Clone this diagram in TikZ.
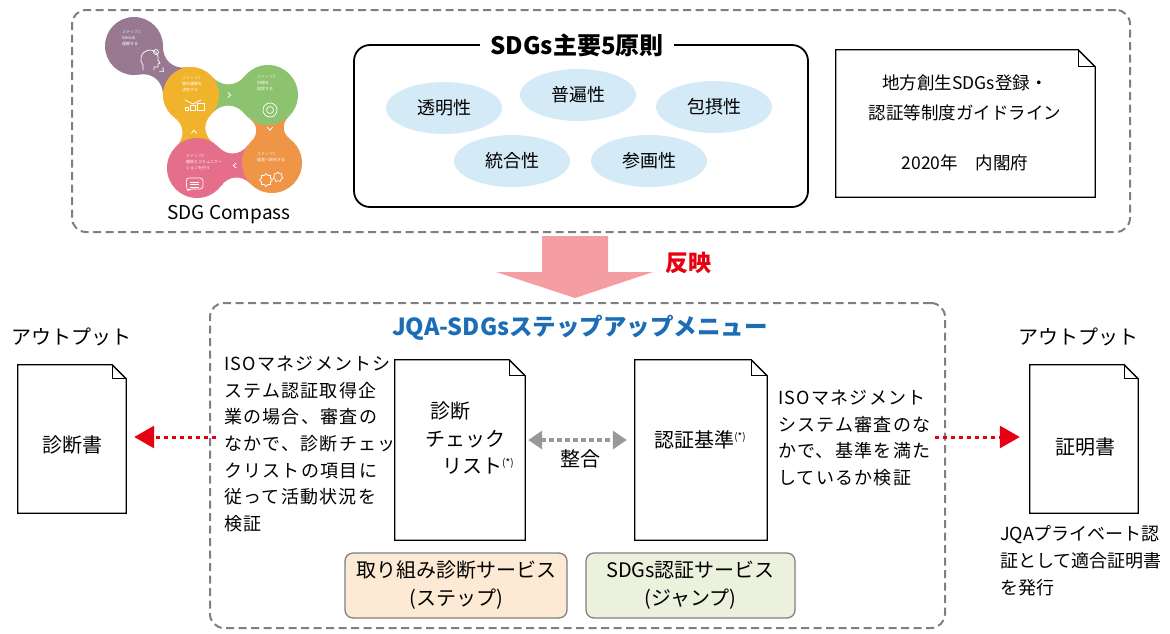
\documentclass[tikz,border=0pt]{standalone}
\usepackage{fontspec}
\setmainfont{Noto Sans CJK JP}
\newfontfamily\spc[LetterSpace=7]{Noto Sans CJK JP}
\usetikzlibrary{calc,arrows.meta,shapes.geometric}

\definecolor{framegray}{HTML}{7F7F7F}
\definecolor{ellblue}{HTML}{D5EAF7}
\definecolor{peach}{HTML}{FDEAD4}
\definecolor{lightgreen}{HTML}{EBF1DD}
\definecolor{svcgray}{HTML}{808080}
\definecolor{titleblue}{HTML}{1B6DB8}
\definecolor{jqared}{HTML}{E50012}
\definecolor{arrowpink}{HTML}{F49DA3}
\definecolor{dotgray}{HTML}{999999}
\definecolor{sdgpurple}{HTML}{987991}
\definecolor{sdgyellow}{HTML}{F2B32C}
\definecolor{sdggreen}{HTML}{8DC26F}
\definecolor{sdgorange}{HTML}{EE9548}
\definecolor{sdgpink}{HTML}{E56E8A}

% neck joining two compass circles: centres #1,#2, radii #3,#4, colour #5
\newcommand\sdgneck[5]{%
  \fill[#5] ($(#1)!#3!40:(#2)$) to[relative,out=-50,in=-130,looseness=1.1]
    ($(#2)!#4!-40:(#1)$) -- ($(#2)!#4!40:(#1)$)
    to[relative,out=-50,in=-130,looseness=1.1] ($(#1)!#3!-40:(#2)$) -- cycle;}
% small white chevron between two circles
\newcommand\sdgchev[3]{%
  \begin{scope}[shift={($(#1)!0.5!(#2)$)},rotate=#3]
    \draw[white,line width=0.8pt] (-1.8,-2.6) -- (1.2,0) -- (-1.8,2.6);
  \end{scope}}
% document outline with folded corner around node #2 (fold size #1)
\newcommand\docshape[2][16]{%
  \draw[docline] (#2.north west) -- ([xshift=-#1pt]#2.north east)
    -- ([yshift=-#1pt]#2.north east) -- (#2.south east) -- (#2.south west) -- cycle;
  \draw[docline] ([xshift=-#1pt]#2.north east) |- ([yshift=-#1pt]#2.north east);}

\begin{document}
\begin{tikzpicture}[x=1pt,y=-1pt,
  frame/.style={draw=framegray,line width=2pt,dash pattern=on 8pt off 4.5pt,
    rounded corners=14pt,inner sep=0pt},
  pbox/.style={draw=black,line width=1.8pt,rounded corners=16pt,inner sep=0pt},
  ell/.style={ellipse,fill=ellblue,minimum width=116pt,minimum height=52pt,
    font=\fontsize{18}{20}\selectfont},
  docnode/.style={inner sep=0pt},
  docline/.style={draw=black,line width=1.3pt,line join=miter},
  body/.style={font=\fontsize{20}{28}\selectfont,inner sep=0pt},
  svc/.style={draw=svcgray,line width=1.3pt,rounded corners=8pt,align=center,
    minimum height=65pt,inner sep=0pt,font=\fontsize{20}{28}\selectfont},
  tiny/.style={text=white,align=left,inner sep=0pt,anchor=north west,
    font=\fontsize{4}{6}\selectfont},
  icon/.style={draw=white,line width=0.7pt},
  reddot/.style={draw=jqared,line width=3pt,dash pattern=on 4pt off 4pt,
    -{Triangle[length=20pt,width=22pt,fill=jqared]}},
  graydot/.style={draw=dotgray,line width=4pt,dash pattern=on 5pt off 3pt,
    {Triangle[length=14pt,width=18pt]}-{Triangle[length=14pt,width=18pt]}}
]
\useasboundingbox (0,0) rectangle (1170,633);

% ---------- upper frame ----------
\node[frame,minimum width=1058pt,minimum height=222pt] (topframe) at (601,121) {};

% SDG Compass
\coordinate (cP) at (134,46);
\coordinate (cY) at (191,95);
\coordinate (cG) at (268,95);
\coordinate (cO) at (272,163);
\coordinate (cK) at (197,168);
\sdgneck{cP}{cY}{29pt}{28pt}{sdgpurple}
\sdgneck{cY}{cG}{28pt}{30pt}{sdggreen}
\sdgneck{cG}{cO}{30pt}{30pt}{sdgorange}
\sdgneck{cO}{cK}{30pt}{30pt}{sdgpink}
\sdgneck{cK}{cY}{30pt}{28pt}{sdgyellow}
\fill[sdgpurple] (cP) circle[radius=29pt];
\fill[sdgyellow] (cY) circle[radius=28pt];
\fill[sdggreen] (cG) circle[radius=30pt];
\fill[sdgorange] (cO) circle[radius=30pt];
\fill[sdgpink] (cK) circle[radius=30pt];
\sdgchev{cP}{cY}{-41}
\sdgchev{cY}{cG}{0}
\sdgchev{cG}{cO}{-90}
\sdgchev{cO}{cK}{180}
\sdgchev{cK}{cY}{90}

\node[tiny] (t1) at (122,30) {\textcolor{white!75!sdgpurple}{ステップ1}\\SDGsを\\理解する};
\node[tiny] (t2) at (182,76) {\textcolor{white!75!sdgyellow}{ステップ2}\\優先課題を\\決定する};
\node[tiny] (t3) at (257,75) {\textcolor{white!75!sdggreen}{ステップ3}\\目標を\\設定する};
\node[tiny] (t4) at (257,152) {\textcolor{white!75!sdgorange}{ステップ4}\\経営へ統合する};
\node[tiny] (t5) at (186,154) {\textcolor{white!75!sdgpink}{ステップ5}\\報告とコミュニケー\\ションを行う};

% icons
\draw[icon] (143,70) -- (143,65) .. controls (139,61) and (140,51) .. (150,50)
  .. controls (156,50) and (159,55) .. (158,60) -- (160,63) -- (158,64)
  -- (158,67) -- (154,67) -- (154,70);
\draw[icon] (156,52) circle[radius=2.5pt];
\draw[icon] (185,100) -- (193,104) -- (201,100);
\draw[icon] (185,107) rectangle (188,110);
\draw[icon] (190,105) rectangle (195,110);
\draw[icon] (197,103) rectangle (204,110);
\draw[icon] (270,110) circle[radius=7pt];
\draw[icon] (270,110) circle[radius=3.5pt];
\node[star,star points=8,star point ratio=1.35,draw=white,line width=0.7pt,
  minimum size=13pt,inner sep=0pt] (gear1) at (266,180) {};
\node[star,star points=7,star point ratio=1.35,draw=white,line width=0.7pt,
  minimum size=10pt,inner sep=0pt] (gear2) at (278,177) {};
\draw[icon,rounded corners=3pt] (187,191) -- (186,178) -- (203,178) -- (203,189) -- (190,189) -- cycle;
\draw[icon] (190,182) -- (199,182) (190,184.5) -- (199,184.5) (190,187) -- (199,187);

\node[font=\fontsize{19}{20}\selectfont,inner sep=0pt] (compass) at (229,215) {SDG Compass};

% five principles
\node[pbox,minimum width=454pt,minimum height=162pt] (principles) at (581,126) {};
\node[fill=white,inner xsep=10pt,font=\bfseries\fontsize{24}{26}\selectfont] (ptitle) at (577,45) {SDGs主要5原則};
\node[ell] (e1) at (444,108) {透明性};
\node[ell] (e2) at (578,95) {普遍性};
\node[ell] (e3) at (714,107) {包摂性};
\node[ell] (e4) at (512,161) {統合性};
\node[ell] (e5) at (649,161) {参画性};

% guideline document
\node[docnode,minimum width=259pt,minimum height=147pt] (guide) at (965.5,123.5) {};
\docshape[17]{guide}
\node[align=center,inner sep=0pt,font=\fontsize{17.5}{30}\selectfont] (guidetxt) at (965,98)
  {地方創生SDGs登録・\\認証等制度ガイドライン};
\node[inner sep=0pt,font=\fontsize{17.5}{20}\selectfont] (guideyear) at (965,163) {2020年　内閣府};

% reflection arrow
\fill[arrowpink] (542,236) -- (608,236) -- (608,272) -- (653,272) -- (575,298)
  -- (496,272) -- (542,272) -- cycle;
\node[text=jqared,font=\bfseries\fontsize{23}{25}\selectfont] (reflect) at (688,263) {反映};

% ---------- lower frame ----------
\node[frame,minimum width=735pt,minimum height=325pt] (menu) at (577.5,465.5) {};
\node[text=titleblue,font=\bfseries\fontsize{23.5}{25}\selectfont] (menutitle) at (580,328)
  {JQA-SDGsステップアップメニュー};

\node[anchor=north west,align=left,inner sep=0pt,font=\spc\fontsize{18}{26.6}\selectfont] (lefttext)
  at (224,356) {ISOマネジメントシ\\ステム認証取得企\\業の場合、審査の\\なかで、診断チェッ\\クリストの項目に\\従って活動状況を\\検証};

\node[docnode,minimum width=130pt,minimum height=180pt] (chk) at (460,450) {};
\docshape[16]{chk}
\node[anchor=north west,align=left,inner sep=0pt,font=\fontsize{20}{27.5}\selectfont] (chktxt)
  at (425,402) {\hspace{5pt}診断\\チェック\\\hspace{17pt}リスト\raisebox{7pt}{\fontsize{10}{10}\selectfont(*)}};

\node[docnode,minimum width=132pt,minimum height=180pt] (std) at (701,450) {};
\docshape[16]{std}
\node[body] (stdtxt) at (700,440) {認証基準\raisebox{7pt}{\fontsize{10}{10}\selectfont(*)}};

\draw[graydot,shorten <=3pt,shorten >=8pt] ([yshift=10pt]chk.east) -- ([yshift=10pt]std.west)
  node[midway,below=8pt,body] (fit) {整合};

\node[anchor=north west,align=left,inner sep=0pt,font=\spc\fontsize{18}{26.5}\selectfont] (righttext)
  at (778,390) {ISOマネジメント\\システム審査のな\\かで、基準を満た\\しているか検証};

\node[svc,fill=peach,minimum width=222pt] (svc1) at (456,585.5) {取り組み診断サービス\\(ステップ)};
\node[svc,fill=lightgreen,minimum width=209pt] (svc2) at (690.5,585.5) {SDGs認証サービス\\(ジャンプ)};

% ---------- outputs ----------
\node[body] (outLtitle) at (72,337) {アウトプット};
\node[docnode,minimum width=108pt,minimum height=148pt] (outL) at (72,439) {};
\docshape[14]{outL}
\node[body] (outLtxt) at (72,445) {診断書};

\node[body] (outRtitle) at (1078,337) {アウトプット};
\node[docnode,minimum width=108pt,minimum height=148pt] (outR) at (1084,439) {};
\docshape[14]{outR}
\node[body] (outRtxt) at (1085,447) {証明書};
\node[anchor=north west,align=left,inner sep=0pt,font=\fontsize{18}{27}\selectfont] (outRnote)
  at (1000,525) {JQAプライベート認\\証として適合証明書\\を発行};

\coordinate (lsrc) at (216,437);
\coordinate (rsrc) at (935,437);
\draw[reddot,shorten >=8pt] (lsrc) -- (outL.east |- lsrc);
\draw[reddot,shorten >=10pt] (rsrc) -- (outR.west |- rsrc);
\end{tikzpicture}
\end{document}
